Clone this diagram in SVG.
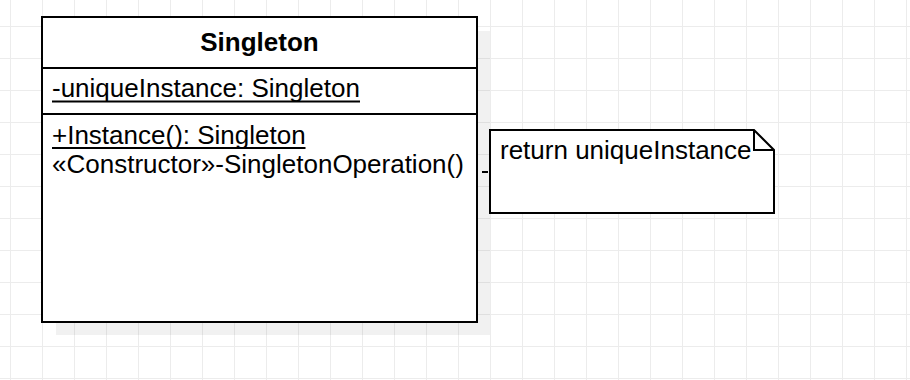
<svg xmlns="http://www.w3.org/2000/svg" width="910" height="380" viewBox="0 0 910 380">
  <defs>
    <pattern id="grid" x="10" y="26" width="32" height="32" patternUnits="userSpaceOnUse">
      <rect x="0" y="0" width="32" height="1" fill="#ececec"/>
      <rect x="0" y="0" width="1" height="32" fill="#ececec"/>
    </pattern>
  </defs>
  <style>
    .shape { fill: #ffffff; stroke: #000000; stroke-width: 2; }
    .shadow { fill: #000000; fill-opacity: 0.055; }
    .title { font-family: "Liberation Sans", Arial, sans-serif; font-size: 26px; font-weight: bold; fill: #000000; }
    .label { font-family: "Liberation Sans", Arial, sans-serif; font-size: 26px; fill: #000000; }
    .uline { stroke: #000000; stroke-width: 2; }
    .link { stroke: #000000; stroke-width: 2; fill: none; stroke-dasharray: 6 5; stroke-dashoffset: 6; }
  </style>

  <!-- canvas -->
  <rect x="0" y="0" width="910" height="380" fill="#ffffff"/>
  <rect x="0" y="0" width="910" height="380" fill="url(#grid)"/>

  <!-- class: Singleton -->
  <g id="singleton-class">
    <rect class="shadow" x="56" y="31" width="434" height="304"/>
    <rect class="shape" x="42" y="17" width="435" height="305"/>
    <line class="uline" x1="42" y1="68" x2="477" y2="68"/>
    <line class="uline" x1="42" y1="114" x2="477" y2="114"/>
    <text class="title" x="259.5" y="51" text-anchor="middle">Singleton</text>
    <text class="label" x="52" y="97">-uniqueInstance: Singleton</text>
    <line class="uline" x1="52" y1="101.5" x2="360" y2="101.5"/>
    <text class="label" x="52" y="144">+Instance(): Singleton</text>
    <line class="uline" x1="52" y1="148" x2="305.5" y2="148"/>
    <text class="label" x="52" y="173">«Constructor»-SingletonOperation()</text>
  </g>

  <!-- note -->
  <g id="note">
    <path class="shape" d="M490,130 H754 L774,150 V213 H490 Z"/>
    <path d="M754,130 V150 H774" fill="none" stroke="#000000" stroke-width="2"/>
    <text class="label" x="500" y="159">return uniqueInstance</text>
  </g>

  <!-- connectors -->
  <g id="connectors">
    <line class="link" x1="477" y1="172" x2="490" y2="172"/>
  </g>
</svg>
